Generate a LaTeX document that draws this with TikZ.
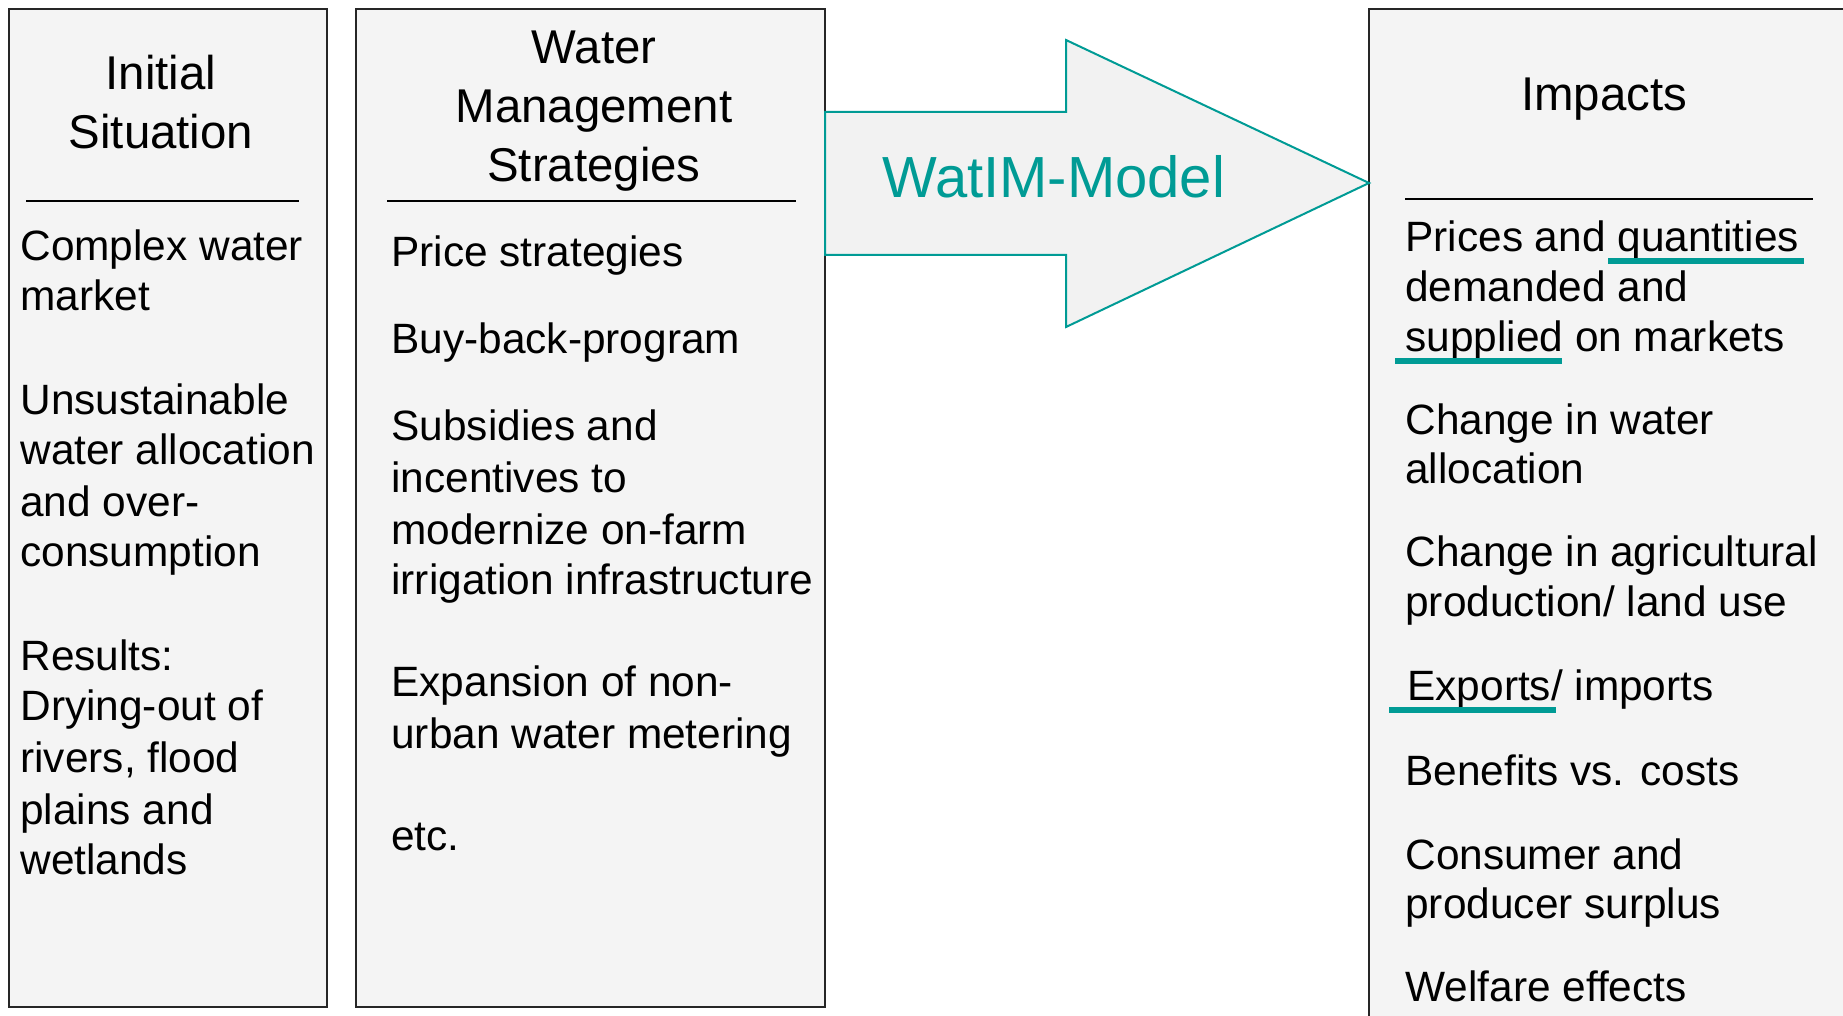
\documentclass[tikz,border=0pt]{standalone}
\usepackage{fontspec}
\setmainfont{Liberation Sans}
\usepackage{xcolor}
\usepackage{tikz}
\definecolor{C009B95}{HTML}{009B95}
\definecolor{CF4F4F4}{HTML}{F4F4F4}
\definecolor{CF2F2F2}{HTML}{F2F2F2}
\definecolor{C262626}{HTML}{262626}

\begin{document}
\begin{tikzpicture}[inner sep=0pt,scale=0.5,
  panel/.style={draw=C262626, fill=CF4F4F4, line width=0.8pt, shape=rectangle},
  head/.style={anchor=base, font=\fontsize{23.7}{28}\selectfont},
  item/.style={anchor=base west, font=\fontsize{21.2}{25}\selectfont},
  rule/.style={-, line width=0.9pt, draw=black},
  hilite/.style={-, line width=3pt, draw=C009B95}]
\useasboundingbox (0pt,0pt) rectangle (1843pt,-1016pt);
\clip (0pt,0pt) rectangle (1843pt,-1016pt);
\node (init) [panel, minimum width=159pt, minimum height=499pt, at={(168pt,-508pt)}] {};
\node (strat) [panel, minimum width=234.5pt, minimum height=499pt, at={(590.5pt,-508pt)}] {};
\node (imp) [panel, minimum width=265.5pt, minimum height=525.5pt, at={(1634.5pt,-534.5pt)}] {};
\path [draw=C009B95, fill=CF2F2F2, line width=1pt] (825pt,-112pt) -- (1066pt,-112pt) -- (1066pt,-40pt) -- (1369pt,-183pt) -- (1066pt,-327pt) -- (1066pt,-255pt) -- (825pt,-255pt) -- cycle;
\node (model) [at={(882pt,-198pt)}, anchor=base west, text=C009B95, font=\fontsize{29}{34}\selectfont] {WatIM-Model};
\node (init1) [head, at={(161pt,-90pt)}] {Initial};
\node (init2) [head, at={(161pt,-149pt)}] {Situation};
\node (strat1) [head, at={(594pt,-64pt)}] {Water};
\node (strat2) [head, at={(594pt,-123pt)}] {Management};
\node (strat3) [head, at={(594pt,-182pt)}] {Strategies};
\node (imp1) [head, at={(1604pt,-111pt)}] {Impacts};
\path [rule] (26pt,-201pt) -- (299pt,-201pt);
\path [rule] (387pt,-201pt) -- (796pt,-201pt);
\path [rule] (1405pt,-199pt) -- (1813pt,-199pt);
\node (i1) [item, at={(20pt,-261pt)}] {Complex water};
\node (i2) [item, at={(20pt,-311pt)}] {market};
\node (i3) [item, at={(20pt,-415pt)}] {Unsustainable};
\node (i4) [item, at={(20pt,-465pt)}] {water allocation};
\node (i5) [item, at={(20pt,-516pt)}] {and over-};
\node (i6) [item, at={(20pt,-566pt)}] {consumption};
\node (i7) [item, at={(20pt,-670pt)}] {Results:};
\node (i8) [item, at={(20pt,-720pt)}] {Drying-out of};
\node (i9) [item, at={(20pt,-772pt)}] {rivers, flood};
\node (i10) [item, at={(20pt,-824pt)}] {plains and};
\node (i11) [item, at={(20pt,-874pt)}] {wetlands};
\node (s1) [item, at={(391pt,-267pt)}] {Price strategies};
\node (s2) [item, at={(391pt,-354pt)}] {Buy-back-program};
\node (s3) [item, at={(391pt,-440pt)}] {Subsidies and};
\node (s4) [item, at={(391pt,-492pt)}] {incentives to};
\node (s5) [item, at={(391pt,-544pt)}] {modernize on-farm};
\node (s6) [item, at={(391pt,-594pt)}] {irrigation infrastructure};
\node (s7) [item, at={(391pt,-696pt)}] {Expansion of non-};
\node (s8) [item, at={(391pt,-748pt)}] {urban water metering};
\node (s9) [item, at={(391pt,-850pt)}] {etc.};
\node (m1) [item, at={(1405pt,-252pt)}] {Prices and quantities};
\node (m2) [item, at={(1405pt,-302pt)}] {demanded and};
\node (m3) [item, at={(1405pt,-351pt)}] {supplied on markets};
\node (m4) [item, at={(1405pt,-434pt)}] {Change in water};
\node (m5) [item, at={(1405pt,-483pt)}] {allocation};
\node (m6) [item, at={(1405pt,-566pt)}] {Change in agricultural};
\node (m7) [item, at={(1405pt,-616pt)}] {production/ land use};
\node (m8) [item, at={(1407pt,-700pt)}] {Exports/ imports};
\node (m9) [item, at={(1405pt,-785pt)}] {Benefits vs. costs};
\node (m10) [item, at={(1405pt,-869pt)}] {Consumer and};
\node (m11) [item, at={(1405pt,-918pt)}] {producer surplus};
\node (m12) [item, at={(1405pt,-1001pt)}] {Welfare effects};
\path [hilite] (1608pt,-261pt) -- (1804pt,-261pt);
\path [hilite] (1395pt,-361pt) -- (1562pt,-361pt);
\path [hilite] (1389pt,-710pt) -- (1556pt,-710pt);
\end{tikzpicture}
\end{document}
